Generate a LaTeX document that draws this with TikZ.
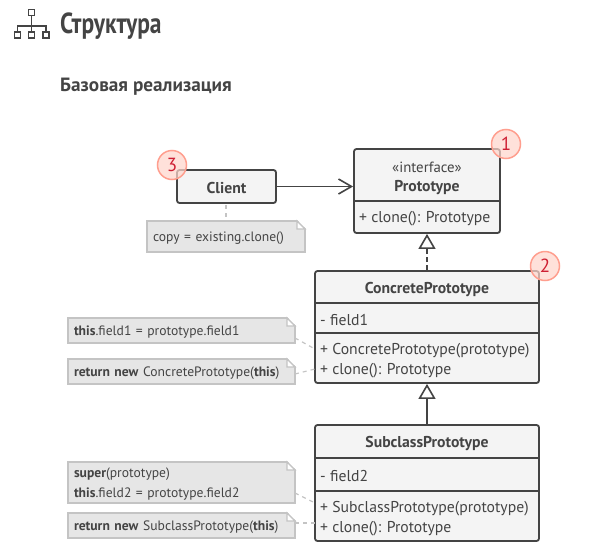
\documentclass[tikz,border=0pt]{standalone}
\usepackage{fontspec}
\setmainfont{PT Sans}
\newfontfamily\titlefont[FakeStretch=0.81]{PT Sans}
\usetikzlibrary{arrows.meta,positioning}

\definecolor{inkgray}{HTML}{444444}
\definecolor{boxfill}{HTML}{F4F4F4}
\definecolor{notefill}{HTML}{E6E6E6}
\definecolor{noteline}{HTML}{C4C4C4}
\definecolor{badgeline}{HTML}{FF9E8E}
\definecolor{badgefill}{HTML}{FFD6CC}
\definecolor{badgetext}{HTML}{CE1F33}

\tikzset{
  classbox/.style={draw=inkgray, fill=boxfill, line width=1.8pt, rounded corners=2.5pt, inner sep=0pt},
  classname/.style={font=\fontsize{15.7}{18}\selectfont\bfseries, text=inkgray, inner sep=0pt},
  classtext/.style={font=\fontsize{15.7}{18}\selectfont, text=inkgray, inner sep=0pt, anchor=west},
  divider/.style={draw=inkgray, line width=1.8pt},
  notebox/.style={rectangle, draw=noteline, fill=notefill, line width=1.4pt, inner xsep=6pt, inner ysep=0pt, outer sep=0pt,
    text=inkgray, font=\fontsize{13.6}{19.5}\selectfont, align=left, text depth=0pt},
  notefold/.style={draw=noteline, line width=1.2pt, fill=white},
  notelink/.style={draw=noteline, line width=1.2pt, dash pattern=on 4pt off 4pt},
  badge/.style={circle, draw=badgeline, fill=badgefill, fill opacity=0.72, text opacity=1,
    line width=1.5pt, minimum size=29pt, inner sep=0pt, text=badgetext,
    font=\fontsize{19}{20}\selectfont},
  realize/.style={draw=inkgray, line width=1.6pt, -{Triangle[open, length=15pt, width=17pt, fill=white]}},
  assoc/.style={draw=inkgray, line width=1.6pt, -{Straight Barb[length=13pt, width=15pt]}},
  iconbox/.style={draw=inkgray, line width=1.9pt, minimum size=6pt, inner sep=0pt},
  iconline/.style={draw=inkgray, line width=1.7pt},
}

\begin{document}
\begin{tikzpicture}[x=1pt, y=-1pt]
\useasboundingbox (0,0) rectangle (595,552);
% heading
\node[iconbox] (icontop) at (31.5,12.5) {};
\node[iconbox] (iconleft) at (17.5,35) {};
\node[iconbox] (iconmid) at (31.5,35) {};
\node[iconbox] (iconright) at (46,35) {};
\coordinate (iconhub) at (31.5,26);
\draw[iconline] (icontop) -- (iconmid);
\draw[iconline] (iconleft) |- (iconhub);
\draw[iconline] (iconright) |- (iconhub);
\node[anchor=base west, inner sep=0pt, text=inkgray, font=\titlefont\fontsize{29}{32}\selectfont\bfseries] (title) at (60,33) {Структура};
\node[anchor=base west, inner sep=0pt, text=inkgray, font=\fontsize{19.2}{22}\selectfont\bfseries] (subtitle) at (60,91) {Базовая реализация};
% classes
\node[classbox, minimum width=146pt, minimum height=84pt] (prototype) at (427,191) {};
\draw[divider] (354,201) -- (500,201);
\node[font=\fontsize{14.8}{18}\selectfont, text=inkgray, inner sep=0pt] (stereotype) at (427,167) {«interface»};
\node[classname] (prototypename) at (427,188) {Prototype};
\node[classtext] (prototypeclone) at (359,219) {+ clone(): Prototype};

\node[classbox, minimum width=99pt, minimum height=33pt] (client) at (226.5,186.5) {};
\node[classname] (clientname) at (226.5,188) {Client};

\node[classbox, minimum width=224pt, minimum height=112pt] (concrete) at (427,327) {};
\draw[divider] (315,303) -- (539,303);
\draw[divider] (315,333) -- (539,333);
\node[classname] (concretename) at (427,289) {ConcretePrototype};
\node[classtext] (fieldone) at (320,320) {- field1};
\node[classtext] (concretector) at (320,351) {+ ConcretePrototype(prototype)};
\node[classtext] (concreteclone) at (320,371) {+ clone(): Prototype};

\node[classbox, minimum width=224pt, minimum height=116pt] (subclass) at (427,483) {};
\draw[divider] (315,458) -- (539,458);
\draw[divider] (315,491) -- (539,491);
\node[classname] (subclassname) at (427,443) {SubclassPrototype};
\node[classtext] (fieldtwo) at (320,476) {- field2};
\node[classtext] (subclassctor) at (320,509) {+ SubclassPrototype(prototype)};
\node[classtext] (subclassclone) at (320,529) {+ clone(): Prototype};
% notes
\node[notebox, minimum width=158pt, minimum height=31pt, text width=146pt] (clientnote) at (226,236.5) {copy = existing.clone()};
\node[notebox, minimum width=227pt, minimum height=25pt, text width=215pt] (ctornote) at (181.5,330.5) {\textbf{this}.field1 = prototype.field1};
\node[notebox, minimum width=227pt, minimum height=25pt, text width=215pt] (clonenote) at (181.5,371.5) {\textbf{return new} ConcretePrototype(\textbf{this})};
\node[notebox, minimum width=227pt, minimum height=41pt, text width=215pt, text depth=19.5pt] (subctornote) at (181.5,482.5) {\textbf{super}(prototype)\\\textbf{this}.field2 = prototype.field2};
\node[notebox, minimum width=227pt, minimum height=25pt, text width=215pt] (subclonenote) at (181.5,525.5) {\textbf{return new} SubclassPrototype(\textbf{this})};
\foreach \n in {clientnote,ctornote,clonenote,subctornote,subclonenote} {
  \fill[white] ([xshift=-8pt,yshift=1.5pt]\n.north east) -- ([xshift=1.5pt,yshift=1.5pt]\n.north east) -- ([xshift=1.5pt,yshift=-8pt]\n.north east) -- cycle;
  \draw[notefold] ([xshift=-8pt]\n.north east) -- ([xshift=-8pt,yshift=-8pt]\n.north east) -- ([yshift=-8pt]\n.north east) -- cycle;
}
% connectors
\draw[assoc] (client.east) -- (client.east -| prototype.west);
\draw[realize, dash pattern=on 5pt off 3pt] (concrete) -- (prototype);
\draw[realize] (subclass) -- (concrete);
\coordinate (clientfoot) at (226,205);
\coordinate (concretetop) at (315,349);
\coordinate (concretelow) at (315,369);
\coordinate (subclasstop) at (315,503);
\coordinate (subclasslow) at (315,523);
\draw[notelink] (clientfoot) -- (clientnote);
\draw[notelink] ([yshift=-7.5pt]ctornote.east) -- (concretetop);
\draw[notelink] ([yshift=-2.5pt]clonenote.east) -- (concretelow);
\draw[notelink] ([yshift=-10.5pt]subctornote.east) -- (subclasstop);
\draw[notelink] ([yshift=2.5pt]subclonenote.east) -- (subclasslow);
% badges
\node[badge] (badgeone) at (506,144) {1};
\node[badge] (badgetwo) at (545,266) {2};
\node[badge] (badgethree) at (172,165) {3};
\end{tikzpicture}
\end{document}
